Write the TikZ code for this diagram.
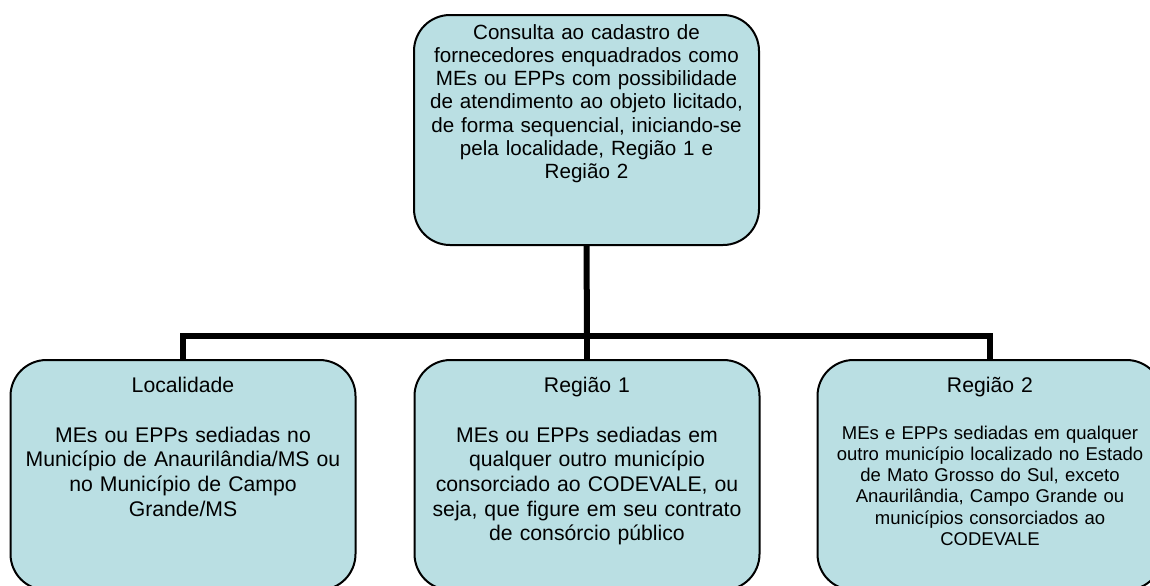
\documentclass[tikz,border=0pt]{standalone}
\usepackage{fontspec}
\setmainfont{Liberation Sans}
\usetikzlibrary{backgrounds}
\definecolor{boxfill}{RGB}{186,223,227}
\tikzset{
  box/.style={draw=black, line width=1pt, fill=boxfill, rounded corners=18pt,
    minimum width=172.5pt, minimum height=115pt, inner sep=0pt},
  toptext/.style={text width=170pt, align=center, inner sep=0pt, anchor=base,
    font=\fontsize{10.3}{11.65}\selectfont},
  bigtext/.style={text width=170pt, align=center, inner sep=0pt, anchor=base,
    font=\fontsize{10.6}{12.35}\selectfont},
  smalltext/.style={text width=170pt, align=center, inner sep=0pt, anchor=base,
    font=\fontsize{9.25}{10.65}\selectfont},
  conn/.style={draw=black, line width=3pt, line join=miter}
}
\begin{document}
\begin{tikzpicture}[x=0.5pt, y=-0.5pt]
\useasboundingbox (0,0) rectangle (1150,585);
\clip (0,0) rectangle (1150,585);
\node[box] (top) at (586.5,130) {};
\node[box] (left) at (183,475) {};
\node[box] (mid) at (587,475) {};
\node[box] (right) at (990,475) {};
\coordinate (bar) at (587,336);
\begin{scope}[on background layer]
\draw[conn] (top.south) -- (bar);
\draw[conn] (left.north) |- (bar) -| (right.north);
\draw[conn] (mid.north) -- (bar);
\end{scope}
\node[toptext] (toptxt) at (586.5,39) {Consulta ao cadastro de\\fornecedores enquadrados como\\MEs ou EPPs com possibilidade\\de atendimento ao objeto licitado,\\de forma sequencial, iniciando-se\\pela localidade, Região 1 e\\Região 2};
\node[bigtext] (lefttitle) at (183,392) {Localidade};
\node[bigtext] (lefttxt) at (183,442) {MEs ou EPPs sediadas no\\Município de Anaurilândia/MS ou\\no Município de Campo\\Grande/MS};
\node[bigtext] (midtitle) at (587,392) {Região 1};
\node[bigtext] (midtxt) at (587,442) {MEs ou EPPs sediadas em\\qualquer outro município\\consorciado ao CODEVALE, ou\\seja, que figure em seu contrato\\de consórcio público};
\node[bigtext] (righttitle) at (990,392) {Região 2};
\node[smalltext] (righttxt) at (990,439) {MEs e EPPs sediadas em qualquer\\outro município localizado no Estado\\de Mato Grosso do Sul, exceto\\Anaurilândia, Campo Grande ou\\municípios consorciados ao\\CODEVALE};
\end{tikzpicture}
\end{document}
